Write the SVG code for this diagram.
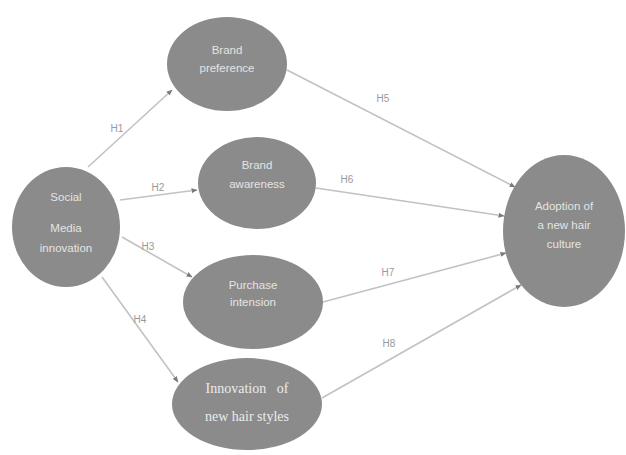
<svg xmlns="http://www.w3.org/2000/svg" width="626" height="455" viewBox="0 0 626 455">
<style>
.node{fill:#8b8b8b;}
.t{font-family:"Liberation Sans","DejaVu Sans",sans-serif;font-size:11.5px;fill:#e4e4e4;text-anchor:middle;}
.ts{font-family:"Liberation Serif","DejaVu Serif",serif;font-size:14px;fill:#ececec;text-anchor:middle;}
.edge{stroke:#c2c2c2;stroke-width:1.6;fill:none;marker-end:url(#ah);}
.lbl{font-family:"Liberation Sans","DejaVu Sans",sans-serif;font-size:10px;fill:#999999;text-anchor:middle;}
</style>
<defs>
<marker id="ah" markerWidth="6" markerHeight="6" refX="5.5" refY="3" orient="auto" markerUnits="userSpaceOnUse">
<path d="M0,0.5 L6,3 L0,5.5 Z" fill="#7a7a7a"/>
</marker>
</defs>
<rect width="626" height="455" fill="#ffffff"/>
<g id="connectors">
<line class="edge" x1="88" y1="167" x2="172" y2="90"/>
<line class="edge" x1="120" y1="200" x2="197" y2="190"/>
<line class="edge" x1="122" y1="237" x2="192" y2="277"/>
<line class="edge" x1="102" y1="277" x2="178" y2="382"/>
<line class="edge" x1="287" y1="70" x2="515" y2="187"/>
<line class="edge" x1="316" y1="188" x2="504" y2="216"/>
<line class="edge" x1="323" y1="302" x2="506" y2="253"/>
<line class="edge" x1="322" y1="398" x2="521" y2="285"/>
<text class="lbl" x="117" y="132">H1</text>
<text class="lbl" x="158" y="191">H2</text>
<text class="lbl" x="148" y="250">H3</text>
<text class="lbl" x="140" y="323">H4</text>
<text class="lbl" x="383" y="102">H5</text>
<text class="lbl" x="347" y="183">H6</text>
<text class="lbl" x="388" y="276">H7</text>
<text class="lbl" x="389" y="347">H8</text>
</g>
<g id="social">
<ellipse class="node" cx="66" cy="227" rx="54" ry="60"/>
<text class="t" x="66" y="201">Social</text>
<text class="t" x="66" y="232">Media</text>
<text class="t" x="66" y="252">innovation</text>
</g>
<g id="brand-preference">
<ellipse class="node" cx="227" cy="64" rx="60" ry="47"/>
<text class="t" x="227" y="54">Brand</text>
<text class="t" x="227" y="72">preference</text>
</g>
<g id="brand-awareness">
<ellipse class="node" cx="257" cy="183" rx="59" ry="46"/>
<text class="t" x="257" y="169">Brand</text>
<text class="t" x="257" y="188">awareness</text>
</g>
<g id="purchase-intension">
<ellipse class="node" cx="253" cy="302" rx="70" ry="47"/>
<text class="t" x="253" y="289">Purchase</text>
<text class="t" x="253" y="306">intension</text>
</g>
<g id="innovation">
<ellipse class="node" cx="247" cy="404" rx="75" ry="46"/>
<text class="ts" x="247" y="393" xml:space="preserve">Innovation   of</text>
<text class="ts" x="247" y="421">new hair styles</text>
</g>
<g id="adoption">
<ellipse class="node" cx="564" cy="231" rx="61" ry="76"/>
<text class="t" x="564" y="210">Adoption of</text>
<text class="t" x="564" y="229">a new hair</text>
<text class="t" x="564" y="248">culture</text>
</g>
</svg>
